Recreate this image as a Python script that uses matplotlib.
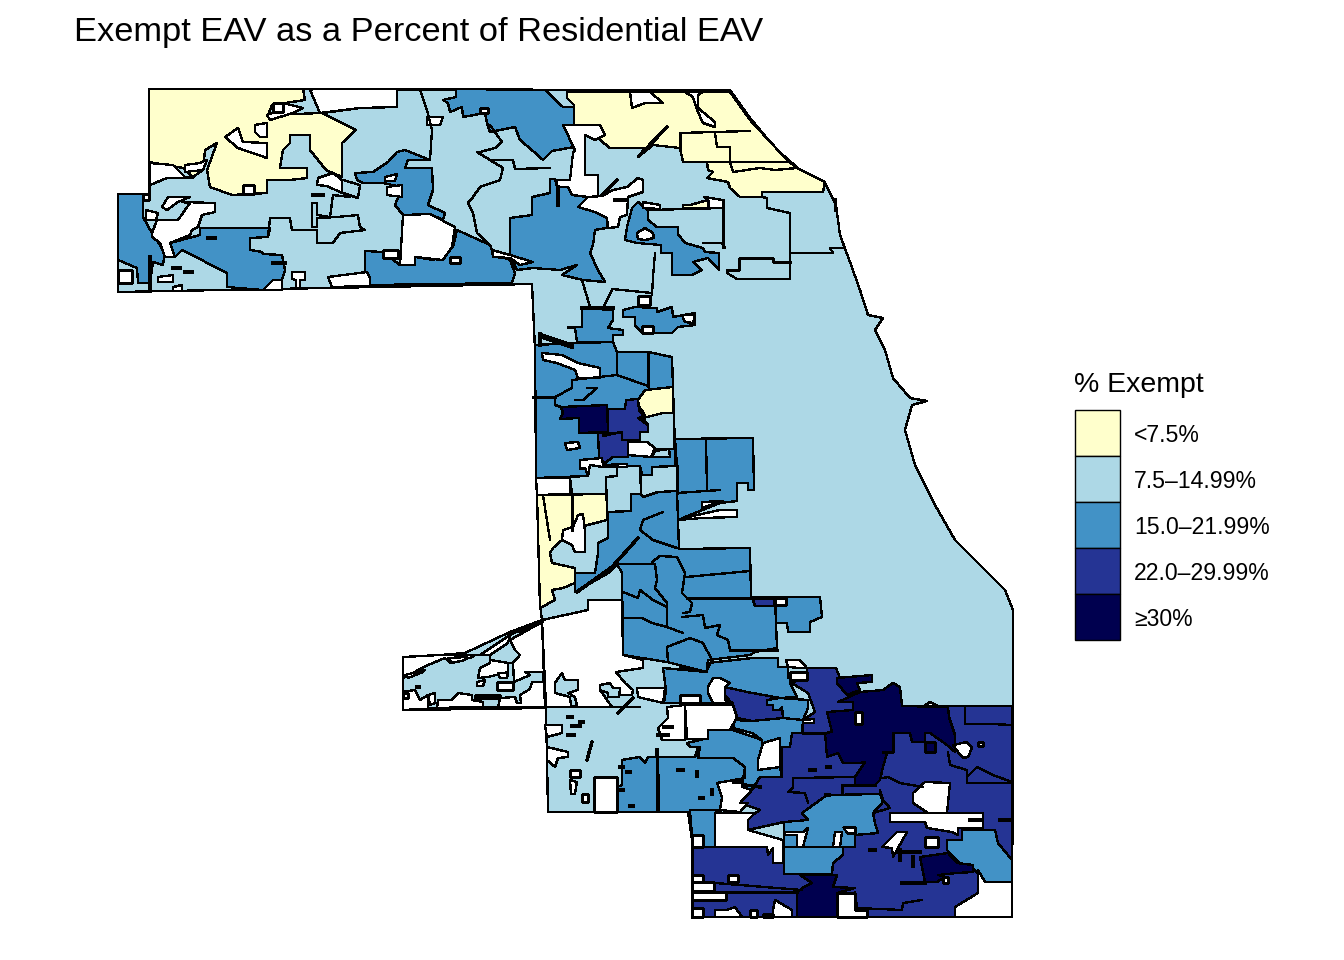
#!/usr/bin/env python
import matplotlib
matplotlib.use('Agg')
import matplotlib.pyplot as plt
from matplotlib.patches import Polygon, Rectangle

# map shapes are traced by eye, in picture pixels (x, y from top left)
COUNTY_OUTLINE = [(149,89),(730,90),(750,118),(775,148),(800,170),(825,183),(836,205),(840,235),(850,262),(860,290),
    (868,315),(883,318),(875,330),(885,350),(893,378),(910,398),(927,401),(912,405),(905,430),(915,465),(935,505),
    (955,540),(985,570),(1005,590),(1013,610),(1013,706),(1012,917),(692,917),(692,840),(688,812),(548,812),(546,708),
    (404,710),(403,658),(465,653),(510,632),(542,620),(540,605),(535,350),(532,284),(118,292),(118,195),(149,195)]

YELLOW_AREAS = [
    [(149,89),(303,89),(305,100),(272,105),(268,115),(322,113),(356,130),(342,143),(342,177),(326,170),(310,150),
     (310,135),(290,135),(290,143),(283,150),(280,168),(307,168),(307,178),(290,180),(267,180),(267,193),(232,195),
     (210,187),(207,170),(217,143),(205,150),(203,170),(193,177),(183,168),(149,162)],
    [(567,92),(730,92),(750,120),(787,160),(797,168),(825,182),(823,192),(762,192),(762,197),(740,197),(730,188),
     (728,182),(707,178),(713,172),(708,170),(707,162),(683,162),(680,148),(653,145),(638,157),(645,148),(610,148),
     (600,140),(600,127),(583,125),(574,125),(574,105),(567,98)],
    [(683,205),(690,205),(708,200),(708,208),(683,208)],
    [(638,400),(645,390),(673,387),(673,413),(663,413),(662,422),(648,422),(643,412),(638,405)],
    [(537,495),(607,494),(607,520),(580,527),(572,530),(562,540),(553,548),(550,553),(552,563),(575,568),(575,583),
     (563,588),(552,590),(555,600),(540,608)],
    [(692,900),(703,900),(703,908),(692,908)],
]

MEDIUM_AREAS = [
    [(456,89),(545,90),(563,107),(574,107),(574,125),(563,125),(574,147),(552,151),(543,160),(533,151),(520,140),
     (515,127),(490,132),(487,123),(485,113),(463,117),(462,107),(450,112),(448,103),(443,100),(456,97)],
    [(355,173),(373,172),(388,162),(397,152),(405,150),(430,160),(408,160),(405,168),(432,168),(433,190),(428,205),
     (445,213),(443,220),(430,214),(403,215),(395,205),(402,187),(383,183),(363,183),(357,180)],
    [(118,194),(143,194),(143,217),(152,233),(165,253),(163,265),(153,262),(150,283),(138,283),(137,268),(118,260)],
    [(170,243),(200,235),(200,228),(270,228),(268,237),(250,238),(250,250),(262,252),(263,254),(282,255),(285,270),
     (282,280),(263,290),(227,287),(227,273),(182,250),(175,257)],
    [(365,251),(383,252),(400,265),(415,265),(415,257),(433,260),(453,247),(457,230),(490,245),(493,253),(510,260),
     (515,273),(512,283),(370,285),(365,272)],
    [(510,218),(532,215),(532,197),(550,193),(550,179),(555,179),(557,187),(568,187),(572,195),(588,197),(578,207),
     (595,212),(607,218),(607,228),(595,230),(593,245),(590,253),(598,270),(605,282),(583,280),(562,275),(577,265),
     (560,270),(533,268),(517,270),(510,257)],
    [(625,240),(627,227),(632,208),(638,202),(648,210),(648,220),(657,227),(678,227),(678,234),(685,243),(703,248),
     (705,252),(719,253),(719,270),(708,258),(693,262),(702,270),(692,275),(672,275),(672,253),(661,253),(661,245),(637,243)],
    [(582,308),(613,310),(613,320),(608,328),(623,330),(623,335),(613,335),(613,342),(577,342),(575,328),(568,328),(568,327),(582,327)],
    [(623,310),(635,307),(657,308),(657,312),(672,307),(673,317),(695,313),(695,325),(678,327),(672,333),(642,333),
     (635,325),(635,317),(623,317)],
    [(535,345),(577,343),(613,342),(617,352),(648,352),(672,357),(673,388),(675,449),(675,466),(652,467),(652,475),
     (642,475),(640,466),(602,467),(590,465),(588,476),(536,478)],
    [(675,439),(753,438),(754,490),(748,490),(748,483),(737,483),(737,491),(737,501),(720,503),(690,515),(678,520),(677,493),(677,466)],
    [(608,512),(631,511),(631,494),(641,494),(643,497),(658,492),(677,491),(679,549),(750,548),(751,597),(775,597),
     (777,648),(755,652),(750,655),(708,660),(707,672),(667,662),(623,655),(622,573),(617,564),(610,572),(575,592),
     (575,573),(595,573),(598,553),(598,543),(608,538)],
    [(775,597),(820,597),(822,617),(810,622),(810,632),(788,632),(787,623),(776,623)],
    [(622,760),(640,757),(645,763),(648,757),(695,757),(698,748),(700,758),(733,758),(745,767),(745,778),(717,783),
     (722,797),(720,810),(688,812),(615,812),(617,787),(622,785)],
    [(690,810),(722,810),(715,813),(715,847),(703,847),(703,835),(692,835),(690,812)],
    [(663,668),(707,672),(707,663),(753,658),(778,658),(778,667),(788,667),(788,678),(808,675),(808,682),(790,683),
     (797,697),(780,698),(747,692),(725,687),(730,683),(720,678),(713,678),(708,687),(708,693),(713,697),(713,703),
     (700,703),(698,695),(690,703),(664,703),(666,690)],
]

LIGHT_PATCHES = [
    [(640,440),(640,432),(648,432),(648,425),(643,418),(663,413),(674,413),(674,449),(628,449),(628,440)],
    [(655,451),(669,449),(670,457),(652,457)],
]

# drawn after the white areas, these sit in the no data part of the map
LIGHT_ISLANDS = [
    [(403,678),(428,665),(445,658),(450,663),(473,657),(475,655),(490,655),(490,663),(480,668),(478,678),(488,677),
     (508,672),(508,663),(513,663),(514,682),(530,675),(525,672),(543,672),(543,682),(532,682),(530,689),(520,695),
     (521,703),(517,703),(515,697),(500,698),(498,708),(483,708),(483,702),(472,700),(472,695),(458,693),(452,700),
     (438,700),(437,708),(428,708),(428,695),(420,700),(415,690),(403,692)],
    [(490,655),(508,643),(510,635),(542,620),(542,622),(510,640),(515,650),(520,655),(513,663),(508,663),(490,660)],
    [(555,683),(562,673),(565,680),(578,680),(578,690),(568,693),(575,697),(577,706),(571,706),(570,697),(555,693)],
    [(600,685),(610,683),(613,688),(620,688),(619,697),(608,697),(608,693),(600,690)],
    [(763,914),(773,914),(773,917),(763,917)],
]

DARK_AREAS = [
    [(807,668),(836,668),(845,690),(900,706),(1012,706),(1012,917),(692,917),(692,847),(770,847),(784,847),(784,822),
     (748,830),(748,818),(760,810),(740,803),(752,790),(760,777),(782,777),(782,747),(792,733),(803,733),(803,720),
     (815,712),(808,693),(790,682),(807,680)],
    [(725,687),(747,692),(780,698),(782,707),(808,700),(803,720),(783,718),(752,721),(737,718),(733,705),(725,695)],
    [(608,409),(625,409),(626,400),(638,399),(639,410),(644,417),(638,418),(648,425),(648,432),(640,432),(640,440),
     (622,440),(622,432),(607,434),(603,434),(608,432)],
    [(598,433),(603,433),(603,436),(622,432),(622,440),(628,440),(628,457),(613,457),(605,463),(599,457)],
    [(752,597),(775,597),(774,606),(755,606)],
]

MEDIUM_PATCHES = [
    [(767,700),(780,698),(808,700),(808,708),(803,720),(783,718),(782,707),(780,710),(773,710),(773,705),(767,705)],
    [(802,813),(827,795),(880,794),(883,802),(873,813),(875,823),(878,833),(855,835),(855,847),(784,847),(784,822),(808,820)],
    [(784,847),(843,847),(843,855),(833,863),(832,874),(784,874)],
    [(962,830),(995,830),(998,843),(1012,860),(1012,882),(985,882),(975,870),(960,863),(947,850),(947,840),(962,840)],
    [(735,720),(752,721),(783,718),(803,720),(802,733),(792,733),(790,747),(780,747),(780,738),(767,742),(762,747),
     (762,740),(752,733),(733,728)],
    [(733,730),(762,740),(762,753),(758,760),(758,770),(780,767),(782,777),(760,777),(752,790),(742,787),(745,767),
     (733,758),(698,758),(700,747),(690,747),(687,743),(708,738),(708,730)],
]

NAVY_AREAS = [
    [(561,407),(607,405),(608,432),(579,433),(579,418),(560,419),(563,413)],
    [(837,678),(872,675),(872,682),(857,683),(860,690),(847,695),(837,683)],
    [(838,702),(860,692),(883,690),(893,683),(900,687),(902,706),(948,707),(949,717),(955,735),(955,752),(947,745),
     (930,733),(925,733),(925,742),(912,742),(910,733),(893,733),(893,752),(887,753),(883,767),(880,780),(875,785),
     (855,785),(855,777),(865,762),(860,763),(843,763),(838,753),(827,757),(825,733),(832,732),(827,712),(853,710),(853,702)],
    [(925,742),(935,742),(935,752),(925,752)],
    [(920,857),(948,853),(957,863),(973,865),(973,872),(957,873),(938,875),(945,877),(937,882),(925,882)],
    [(797,893),(802,888),(812,883),(800,875),(837,875),(833,887),(855,888),(837,893),(837,917),(797,917)],
]

WHITE_AREAS = [
    # north west
    [(225,137),(238,128),(243,142),(267,143),(267,158),(238,148)],
    [(313,89),(397,89),(397,107),(360,108),(320,113),(310,90)],
    [(149,163),(173,165),(185,177),(193,178),(167,178),(150,185)],
    [(152,233),(157,220),(178,220),(190,203),(182,202),(215,203),(215,212),(202,215),(198,227),(192,230),(190,235),
     (170,243),(175,257),(165,257),(160,243),(152,237)],
    [(162,207),(168,197),(178,197),(190,197),(178,202),(167,210)],
    [(143,194),(149,194),(149,200),(143,200)],
    [(146,210),(158,213),(156,220),(146,220)],
    [(118,270),(132,270),(132,283),(118,283)],
    [(243,185),(254,185),(254,194),(243,194)],
    [(318,178),(333,173),(342,180),(342,193),(327,186),(317,185)],
    [(403,215),(430,214),(455,227),(452,247),(443,260),(415,257),(415,265),(400,265)],
    [(383,250),(398,250),(398,258),(383,258)],
    [(450,257),(460,257),(460,263),(450,263)],
    [(292,272),(305,272),(305,280),(300,280),(300,288),(296,288),(296,280),(292,279)],
    [(385,177),(397,174),(395,181),(385,181)],
    [(387,187),(402,185),(402,197),(387,195)],
    [(267,115),(280,110),(283,103),(303,108),(293,113),(270,120)],
    [(255,125),(267,123),(267,137),(260,137),(255,132)],
    [(273,103),(283,103),(283,112),(273,112)],
    [(185,165),(200,163),(207,160),(203,170),(185,172)],
    [(328,277),(367,272),(370,278),(370,286),(332,287)],
    [(427,117),(443,117),(440,125),(427,125)],
    [(480,108),(488,108),(488,113),(480,113)],
    [(158,277),(173,275),(173,282),(158,282)],
    [(173,287),(182,285),(182,291),(173,291)],
    [(263,290),(273,280),(282,280),(282,290)],
    [(492,250),(510,255),(533,262),(520,265),(510,258),(493,257)],
    # north centre
    [(563,125),(600,125),(605,135),(595,140),(585,135),(585,175),(598,175),(598,197),(588,197),(572,195),(568,187),
     (557,187),(557,180),(570,180),(573,153),(575,150)],
    [(578,207),(588,197),(602,196),(613,190),(627,187),(638,178),(643,180),(643,192),(628,197),(627,215),(620,217),
     (618,227),(608,228),(607,218),(595,212)],
    [(630,92),(650,92),(663,103),(645,103),(632,108)],
    [(685,92),(703,92),(698,95),(698,108),(715,122),(715,127),(703,123),(697,110),(693,97)],
    [(704,197),(723,200),(723,208),(709,208),(709,201)],
    [(643,202),(660,205),(660,209),(643,208)],
    [(637,233),(645,228),(653,233),(654,238),(645,240),(638,239)],
    [(642,326),(653,326),(653,333),(642,333)],
    [(682,315),(695,315),(693,323),(685,322)],
    [(638,296),(650,296),(650,305),(638,305)],
    [(540,334),(573,345),(573,348),(540,337)],
    # middle
    [(542,353),(562,355),(578,363),(600,368),(600,378),(578,378),(575,370),(557,363),(543,360)],
    [(628,442),(647,442),(655,448),(651,457),(628,455)],
    [(565,443),(578,442),(580,448),(567,450)],
    [(580,460),(602,458),(603,465),(627,464),(627,467),(602,467),(590,465),(588,475),(585,468),(580,469)],
    [(536,478),(570,478),(570,494),(537,495)],
    [(702,502),(723,501),(702,508)],
    [(688,517),(720,510),(737,510),(737,517),(702,518),(678,520)],
    [(563,530),(573,527),(578,515),(583,514),(585,532),(585,552),(575,552),(572,545),(562,540)],
    [(775,598),(786,598),(786,605),(775,605)],
    # south west
    [(542,620),(588,610),(588,600),(622,600),(623,655),(643,660),(643,668),(616,672),(625,683),(633,690),(632,695),
     (613,695),(610,685),(600,690),(612,707),(546,707)],
    [(403,657),(440,655),(480,655),(510,635),(542,620),(545,708),(403,710)],
    [(545,725),(562,725),(562,733),(547,737)],
    [(547,747),(568,752),(568,757),(558,758),(555,767),(547,760)],
    [(570,770),(580,770),(580,777),(570,777)],
    [(570,780),(577,782),(575,794),(571,794)],
    [(582,794),(588,794),(588,802),(582,802)],
    [(594,777),(617,777),(617,812),(594,812)],
    [(667,707),(685,705),(685,740),(662,740),(658,728),(668,718)],
    [(637,688),(665,688),(663,703),(638,697)],
    # south east
    [(685,705),(733,705),(737,717),(730,730),(708,730),(708,739),(687,739)],
    [(680,695),(700,695),(700,703),(680,703)],
    [(758,760),(763,743),(780,738),(780,767),(758,770)],
    [(713,678),(720,678),(730,683),(725,687),(725,700),(733,703),(713,703),(708,693),(708,687)],
    [(733,758),(745,767),(745,778),(717,783),(722,797),(720,810),(740,812),(748,803),(740,803),(752,790),(742,787),(745,767)],
    [(913,793),(925,782),(950,783),(947,813),(928,813),(913,803)],
    [(890,813),(983,813),(983,828),(958,828),(958,835),(952,832),(927,828),(925,822),(890,822)],
    [(953,745),(967,742),(972,748),(968,757),(963,758),(958,752)],
    [(978,742),(983,742),(983,746),(978,746)],
    [(882,847),(897,832),(907,832),(893,857),(892,848)],
    [(925,837),(938,837),(938,847),(925,847)],
    [(943,877),(948,877),(948,883),(943,883)],
    [(837,893),(855,893),(855,910),(867,910),(867,917),(837,917)],
    [(692,835),(703,835),(703,847),(692,847)],
    [(715,813),(755,813),(748,820),(748,830),(783,840),(783,863),(773,863),(773,848),(768,855),(767,847),(715,847)],
    [(692,875),(703,875),(703,882),(692,882)],
    [(692,882),(714,882),(714,891),(692,891)],
    [(692,892),(726,892),(726,900),(692,900)],
    [(692,908),(703,908),(703,917),(692,917)],
    [(715,910),(727,910),(735,907),(742,917),(715,917)],
    [(773,910),(775,900),(792,910),(792,917),(773,917)],
    [(728,875),(738,875),(738,882),(728,882)],
    [(750,910),(757,910),(757,917),(750,917)],
    [(855,712),(862,712),(862,724),(855,724)],
    [(803,720),(814,719),(814,723),(803,723)],
    [(785,832),(803,832),(808,828),(803,847),(797,847),(797,835),(785,835)],
    [(833,847),(835,832),(842,832),(840,847)],
    [(843,827),(855,827),(855,833),(847,833)],
    [(955,907),(978,893),(978,870),(985,882),(1012,882),(1012,917),(955,917)],
    [(790,672),(807,672),(807,680),(790,680)],
    [(924,706),(930,702),(938,706)],
    [(786,660),(800,660),(807,668),(800,668),(788,667)],
]

# holes on top of the light islands
WHITE_HOLES = [
    [(497,682),(513,682),(513,690),(497,690)],
    [(498,673),(508,673),(507,678),(500,678)],
    [(475,695),(500,695),(500,698),(475,698)],
    [(403,693),(408,693),(408,698),(403,698)],
    [(428,695),(435,693),(435,703),(430,705)],
    [(405,675),(425,670),(423,672),(408,678)],
    [(448,658),(467,657),(465,660),(452,663)],
    [(477,682),(485,680),(483,686),(477,686)],
]

BOUNDARIES = [
    [(723,200),(723,247)], [(650,210),(723,208)], [(762,197),(767,198),(767,208),(790,213),(790,279)],
    [(790,253),(833,253),(830,248),(843,248)], [(727,270),(727,273),(737,279),(790,279)],
    [(727,270),(739,270),(739,258),(773,258),(773,262),(790,262)], [(703,243),(722,243),(725,248)],
    [(655,253),(653,277),(652,295)], [(612,289),(652,293)], [(582,280),(590,307)], [(612,290),(603,308)],
    [(680,133),(750,131)], [(680,148),(680,133)], [(715,133),(717,147),(730,147),(730,162),(787,162)],
    [(707,162),(730,162),(733,172),(760,168),(775,170),(797,168)],
    [(323,113),(360,108)], [(430,160),(432,130),(427,110),(420,90)],
    [(490,125),(502,142),(495,148),(480,152),(477,152),(490,160),(503,168),(500,180),(480,187),(473,197),(468,203),
     (473,213),(477,233),(490,245)],
    [(490,160),(513,160),(515,169),(550,168)],
    [(312,203),(317,203),(317,215),(330,217),(333,195),(350,197)],
    [(312,203),(312,227),(317,227),(317,218),(337,217),(358,215),(360,227),(365,230),(340,233),(333,243),(317,243),
     (317,230),(292,230),(290,218),(270,218),(268,237)],
    [(343,193),(358,198),(360,185),(343,180)],
    [(149,195),(149,162)], [(150,185),(149,190)],
    [(617,352),(617,375),(648,386)], [(648,352),(648,386)], [(572,380),(617,375)], [(572,380),(572,388),(555,397),(555,405),(561,407)],
    [(533,397),(555,397)], [(587,388),(597,388),(583,400),(575,400)],
    [(617,467),(617,476),(606,477),(607,512)], [(640,466),(641,493)], [(570,478),(572,494)], [(677,466),(677,493)],
    [(706,438),(707,491)], [(677,493),(720,490)],
    [(543,495),(550,540)], [(572,494),(572,530)],
    [(663,512),(643,520),(640,530),(653,540),(677,548)],
    [(617,564),(655,564),(657,580),(655,588),(667,603),(667,627),(683,633)],
    [(652,562),(660,556),(677,557),(685,573),(682,593),(692,603),(690,612),(683,613)],
    [(686,577),(750,571)], [(687,598),(775,598)],
    [(682,617),(703,615),(705,628),(720,625),(717,635),(728,640),(730,650)], [(730,650),(777,650)],
    [(667,647),(690,638),(703,643),(712,660),(707,670)],
    [(623,592),(638,598),(640,590),(653,600),(667,607)], [(623,618),(642,618),(652,623),(667,627)], [(667,648),(668,662)],
    [(680,667),(707,672)],
    [(965,707),(965,724),(992,724),(1012,725)],
    [(948,752),(950,765),(967,770),(967,783),(1012,783)], [(967,777),(977,767),(993,775),(1012,782)],
    [(855,777),(793,778),(793,788),(788,792),(805,793),(808,803)], [(842,785),(875,785)], [(842,785),(842,793)],
    [(883,778),(888,777),(900,783),(923,787)], [(880,790),(883,800),(890,808),(873,813)],
    [(715,883),(802,890)], [(727,892),(797,892)], [(855,892),(857,908),(902,910),(903,903),(922,900)],
    [(692,847),(692,917)], [(825,733),(803,733)], [(893,733),(893,752),(883,752)],
    [(542,620),(546,708)], [(403,710),(462,707),(640,707)],
]

THICK_BITS = [
    [(313,195),(323,195)], [(208,238),(215,238)], [(273,263),(285,263)], [(173,268),(180,268)], [(185,272),(192,272)],
    [(150,257),(150,290)], [(558,187),(558,205)], [(667,127),(640,155)], [(617,180),(602,195)],
    [(638,538),(612,567),(577,592)], [(520,632),(542,622)], [(657,750),(658,780)], [(658,783),(658,810)],
    [(592,742),(587,760)], [(633,698),(618,713)], [(902,883),(925,883)], [(913,857),(913,866)],
    [(745,785),(760,787)], [(734,782),(740,782)], [(615,200),(625,200)], [(835,200),(836,210)], [(582,308),(613,308)],
    [(540,334),(540,345)], [(898,852),(920,852)], [(970,820),(980,820)], [(1000,820),(1010,820)],
    [(568,717),(572,717)], [(572,726),(580,726)], [(568,735),(574,735)], [(580,722),(583,722)], [(664,727),(672,727)],
    [(658,735),(668,735)], [(620,767),(623,767)], [(627,772),(630,772)], [(417,687),(419,687)], [(620,790),(623,790)],
    [(630,806),(633,806)], [(678,770),(683,770)], [(700,798),(703,798)], [(697,772),(697,776)], [(712,790),(712,794)],
    [(810,770),(815,770)], [(827,767),(830,767)], [(826,795),(829,795)], [(870,850),(875,850)], [(900,850),(900,860)],
]

LEGEND_TITLE = '% Exempt'
LEGEND_LABELS = ['<7.5%', '7.5\u201314.99%', '15.0\u201321.99%', '22.0\u201329.99%', '\u226530%']
LEGEND_COLORS = ['#FFFFCC', '#ADD8E6', '#4292C6', '#253494', '#00004F']
TITLE = 'Exempt EAV as a Percent of Residential EAV'


def add_areas(ax, areas, color):
    for points in areas:
        ax.add_patch(Polygon(points, closed=True, facecolor=color, edgecolor='black',
                             linewidth=0.95, antialiased=False))


def main():
    plt.rcParams['font.family'] = ['Liberation Sans', 'DejaVu Sans']
    fig = plt.figure(figsize=(13.44, 9.6), dpi=100)
    ax = fig.add_axes([0, 0, 1, 1])
    ax.set_xlim(0, 1344)
    ax.set_ylim(960, 0)
    ax.axis('off')

    yellow, light, medium, dark, navy = LEGEND_COLORS
    add_areas(ax, [COUNTY_OUTLINE], light)
    add_areas(ax, MEDIUM_AREAS, medium)
    add_areas(ax, YELLOW_AREAS, yellow)
    add_areas(ax, LIGHT_PATCHES, light)
    add_areas(ax, DARK_AREAS, dark)
    add_areas(ax, MEDIUM_PATCHES, medium)
    add_areas(ax, NAVY_AREAS, navy)
    add_areas(ax, WHITE_AREAS, 'white')
    add_areas(ax, LIGHT_ISLANDS, light)
    add_areas(ax, WHITE_HOLES, 'white')

    for line in BOUNDARIES:
        xs, ys = zip(*line)
        ax.plot(xs, ys, color='black', linewidth=0.95, antialiased=False)
    for line in THICK_BITS:
        xs, ys = zip(*line)
        ax.plot(xs, ys, color='black', linewidth=1.7, antialiased=False)

    ax.text(74, 33, TITLE, fontsize=24.75, ha='left', va='center')
    ax.text(1074, 385, LEGEND_TITLE, fontsize=20.5, ha='left', va='center')
    for i, (label, color) in enumerate(zip(LEGEND_LABELS, LEGEND_COLORS)):
        top = 410 + i * 46
        ax.add_patch(Rectangle((1075, top), 45, 46, facecolor=color, edgecolor='black', linewidth=1))
        ax.text(1134, top + 26, label, fontsize=16.6, ha='left', va='center')

    fig.savefig('out.png', dpi=100)


if __name__ == "__main__":
    main()
